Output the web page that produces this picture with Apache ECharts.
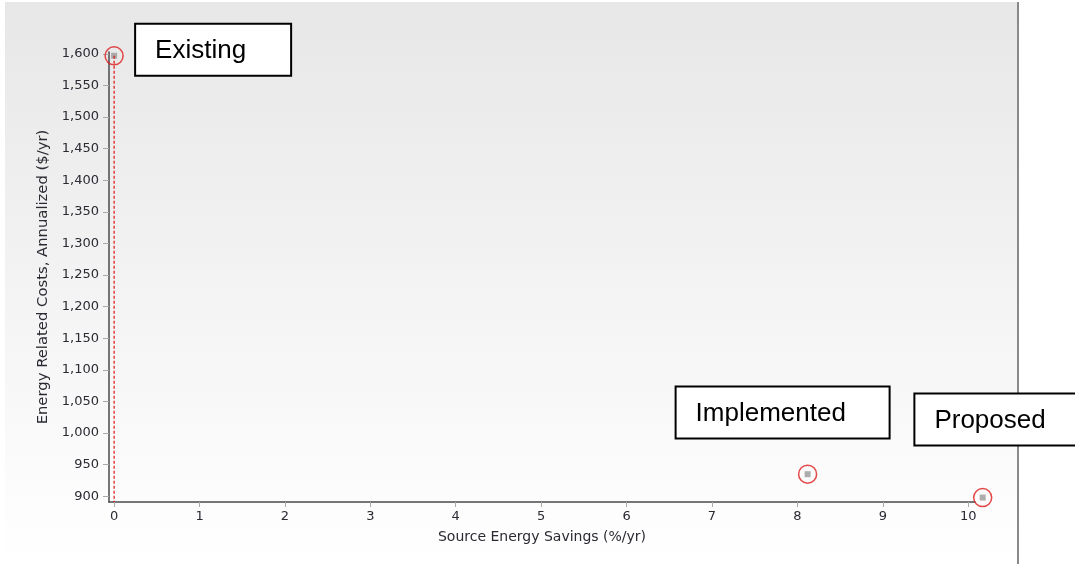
<!DOCTYPE html>
<html>
<head>
<meta charset="utf-8">
<script src="https://cdn.jsdelivr.net/npm/echarts@6/dist/echarts.min.js"></script>
<style>
html,body{margin:0;padding:0;background:#fff;}
#chart{width:1075px;height:564px;}
</style>
</head>
<body>
<div id="chart"></div>
<script>
// ---- data ----
var pointNames = ['Existing', 'Implemented', 'Proposed'];
var energySavings = [0, 8.12, 10.17];          // Source Energy Savings (%/yr)
var annualCosts = [1597, 935, 898];            // Energy Related Costs, Annualized ($/yr)
var xTicks = [0, 1, 2, 3, 4, 5, 6, 7, 8, 9, 10];
var yTicks = [900, 950, 1000, 1050, 1100, 1150, 1200, 1250, 1300, 1350, 1400, 1450, 1500, 1550, 1600];
var xMin = -0.06, xMax = 10.08;
var yMin = 891, yMax = 1603;

// annotation box styling (offset of box top-left from the point, box width)
var boxOffsets = [[21, -32], [-132, -87.6], [-68.3, -104]];
var boxWidths = [156, 214, 170];

var pts = energySavings.map(function (x, i) { return [x, annualCosts[i]]; });

var fontFam = 'DejaVu Sans, Verdana, sans-serif';
var textColor = '#2a2a33';
var chart = echarts.init(document.getElementById('chart'), null, { renderer: 'canvas' });

var bgGraphics = [
  {
    type: 'rect', z: -10, silent: true,
    shape: { x: 5, y: 2, width: 1012, height: 562 },
    style: {
      fill: new echarts.graphic.LinearGradient(0, 0, 0, 1, [
        { offset: 0, color: '#e7e7e7' },
        { offset: 1, color: '#ffffff' }
      ])
    }
  },
  {
    type: 'line', z: -9, silent: true,
    shape: { x1: 1018, y1: 2, x2: 1018, y2: 564 },
    style: { stroke: '#8a8a8a', lineWidth: 2 }
  }
];

chart.setOption({
  animation: false,
  backgroundColor: '#fff',
  graphic: bgGraphics,
  grid: { left: 109, right: 100, top: 52, bottom: 62, containLabel: false },
  xAxis: {
    type: 'value', min: xMin, max: xMax,
    name: 'Source Energy Savings (%/yr)',
    nameLocation: 'middle', nameGap: 28,
    nameTextStyle: { fontFamily: fontFam, fontSize: 14, color: textColor },
    axisLine: { show: true, onZero: false, lineStyle: { color: '#4a4a4a', width: 1.5 } },
    axisTick: { show: true, length: 5, customValues: xTicks, lineStyle: { color: '#aaa' } },
    axisLabel: { customValues: xTicks, fontFamily: fontFam, fontSize: 13, color: textColor, margin: 8 },
    splitLine: { show: false }
  },
  yAxis: {
    type: 'value', min: yMin, max: yMax,
    name: 'Energy Related Costs, Annualized ($/yr)',
    nameLocation: 'middle', nameGap: 55,
    nameTextStyle: { fontFamily: fontFam, fontSize: 14.8, color: textColor },
    axisLine: { show: true, onZero: false, lineStyle: { color: '#4a4a4a', width: 1.5 } },
    axisTick: { show: true, length: 6, customValues: yTicks, lineStyle: { color: '#aaa' } },
    axisLabel: {
      customValues: yTicks, fontFamily: fontFam, fontSize: 13, color: textColor, margin: 10,
      formatter: function (v) { return Number(v).toLocaleString('en-US'); }
    },
    splitLine: { show: false }
  },
  series: [
    {
      type: 'scatter', clip: false, z: 2,
      symbol: 'rect', symbolSize: 6,
      itemStyle: { color: '#999' },
      data: pts
    },
    {
      type: 'line', clip: false, z: 3, symbol: 'none',
      lineStyle: { color: '#dd1111', width: 1.2, type: [3, 2] },
      data: [[energySavings[0], annualCosts[0]], [energySavings[0], yMin]]
    },
    {
      type: 'scatter', clip: false, z: 4,
      symbol: 'circle', symbolSize: 18,
      itemStyle: { color: 'rgba(0,0,0,0)', borderColor: '#dd1a1a', borderWidth: 1.5 },
      data: pts
    }
  ]
});

// annotation boxes anchored to the data points through the axis scales
var annot = pts.map(function (p, i) {
  var px = chart.convertToPixel({ gridIndex: 0 }, p);
  return {
    type: 'group', z: 100,
    x: px[0] + boxOffsets[i][0],
    y: px[1] + boxOffsets[i][1],
    children: [
      {
        type: 'rect',
        shape: { x: 0, y: 0, width: boxWidths[i], height: 52 },
        style: { fill: '#fff', stroke: '#000', lineWidth: 2 }
      },
      {
        type: 'text',
        style: {
          text: pointNames[i], x: 20, y: 27,
          verticalAlign: 'middle', align: 'left',
          font: '26px "Liberation Sans", Arial, sans-serif',
          fill: '#000'
        }
      }
    ]
  };
});
chart.setOption({ graphic: bgGraphics.concat(annot) });
</script>
</body>
</html>
